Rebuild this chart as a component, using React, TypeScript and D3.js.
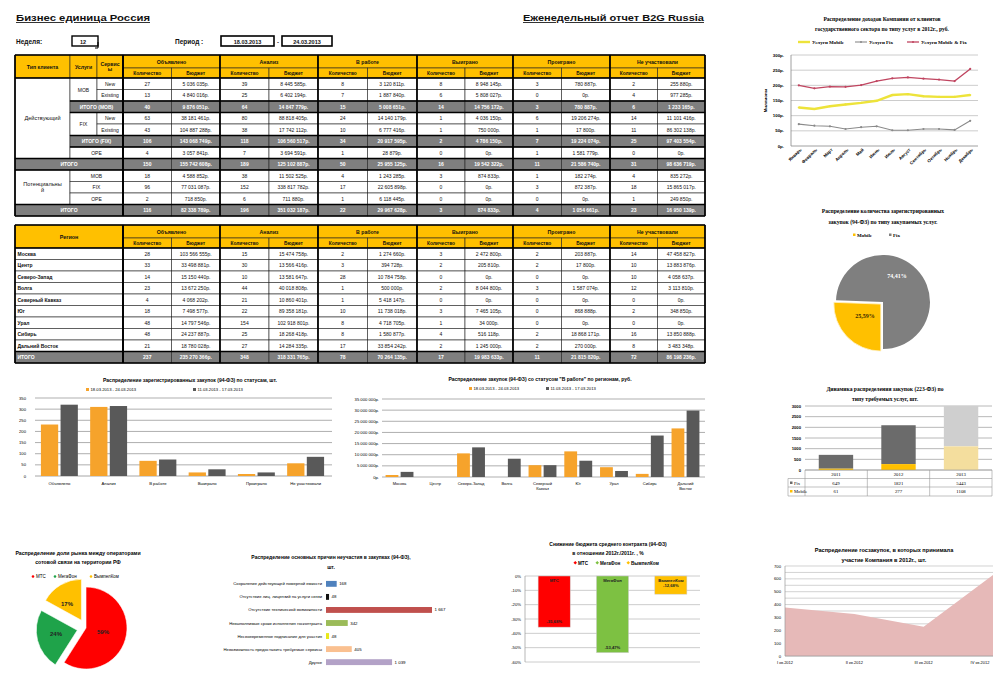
import React from "react";
import * as d3 from "d3";

const SANS = "'Liberation Sans', Arial, sans-serif";
const SERIF = "'Liberation Serif', 'Times New Roman', serif";
const YELLOW = "#FFC000";
const GRAYROW = "#7F7F7F";
const ORANGE = "#F6A32B";
const DARK = "#595959";

// ---------------- Tables data ----------------
const statuses = ["Объявлено", "Анализ", "В работе", "Выиграно", "Проиграно", "Не участвовали"];
const subHeaders = ["Количество", "Бюджет"];

const t1Gray = [false, false, true, false, false, true, false, true, false, false, false, true];
const t1Counts = [
  [27, 39, 8, 8, 3, 2],
  [13, 25, 7, 6, 0, 4],
  [40, 64, 15, 14, 3, 6],
  [63, 80, 24, 1, 6, 14],
  [43, 38, 10, 1, 1, 11],
  [106, 118, 34, 2, 7, 25],
  [4, 7, 1, 0, 1, 0],
  [150, 189, 50, 16, 11, 31],
  [18, 38, 4, 3, 1, 4],
  [96, 152, 17, 0, 3, 18],
  [2, 6, 1, 0, 0, 1],
  [116, 196, 22, 3, 4, 23],
];
const t1Budgets = [
  [5036035, 8445585, 3120811, 8948145, 780887, 255880],
  [4840016, 6402194, 1887840, 5808027, 0, 977285],
  [9876051, 14847779, 5008651, 14756172, 780887, 1233165],
  [38181461, 88818405, 14140179, 4036150, 19206274, 11101416],
  [104887288, 17742112, 6777416, 750000, 17800, 86302138],
  [143068749, 106560517, 20917595, 4786150, 19224074, 97403554],
  [3057841, 3694591, 28879, 0, 1581779, 0],
  [155742608, 125102887, 25955125, 19542322, 21586740, 98636719],
  [4588852, 11502525, 1243285, 874833, 182274, 835272],
  [77031087, 338817782, 22605898, 0, 872387, 15865017],
  [718850, 711880, 6118445, 0, 0, 249850],
  [82338789, 351032187, 29967628, 874833, 1054661, 16950139],
];

const regions = ["Москва", "Центр", "Северо-Запад", "Волга", "Северный Кавказ", "Юг", "Урал", "Сибирь", "Дальний Восток"];
const t2Counts = [
  [28, 15, 2, 3, 2, 14],
  [33, 30, 3, 2, 2, 10],
  [14, 10, 28, 0, 0, 10],
  [23, 44, 1, 2, 3, 12],
  [4, 21, 1, 0, 0, 0],
  [18, 22, 10, 3, 0, 2],
  [48, 154, 8, 1, 0, 0],
  [48, 25, 8, 4, 2, 16],
  [21, 27, 17, 2, 2, 8],
];
const t2Budgets = [
  [103566555, 15474758, 1274660, 2472800, 203887, 47458827],
  [33498881, 13566416, 394728, 205810, 17800, 13883876],
  [15150440, 13581647, 10784758, 0, 0, 4058637],
  [13672250, 40018808, 500000, 8044800, 1587074, 3113810],
  [4068202, 10860401, 5418147, 0, 0, 0],
  [7498577, 89358181, 11738018, 7465105, 868888, 348850],
  [14797546, 102918801, 4718705, 34000, 0, 0],
  [24237887, 18268418, 1580877, 516118, 18868171, 13850888],
  [18780028, 14284335, 33854242, 1245000, 270000, 3483348],
];

// ---------------- Charts data ----------------
const months = ["Январь", "Февраль", "Март", "Апрель", "Май", "Июнь", "Июль", "Август", "Сентябрь", "Октябрь", "Ноябрь", "Декабрь"];
const incomeMobile = [127, 122, 131, 137, 142, 149, 168, 171, 164, 162, 162, 168];
const incomeFix = [72, 67, 65, 56, 62, 65, 52, 52, 56, 56, 53, 83];
const incomeBoth = [200, 190, 196, 195, 201, 214, 223, 226, 222, 219, 214, 254];
const incomeTicks = [0, 50, 100, 150, 200, 250, 300];

const serviceNames = ["Mobile", "Fix"];
const serviceShares = [25.59, 74.41];

const periodNames = ["18.03.2013 - 24.03.2013", "11.03.2013 - 17.03.2013"];
const statusCur = [231, 310, 68, 16, 9, 57];
const statusPrev = [320, 314, 74, 30, 16, 86];
const statusTicks = [0, 50, 100, 150, 200, 250, 300, 350];

const regionLabels = [["Москва"], ["Центр"], ["Северо-Запад"], ["Волга"], ["Северный", "Кавказ"], ["Юг"], ["Урал"], ["Сибирь"], ["Дальний", "Восток"]];
const workCur = [900000, 0, 10600000, 0, 5300000, 11500000, 4400000, 1400000, 21800000];
const workPrev = [2300000, 0, 13300000, 8200000, 5300000, 7300000, 2700000, 18600000, 29800000];
const workTicks = [0, 5000000, 10000000, 15000000, 20000000, 25000000, 30000000, 35000000];

const years = ["2011", "2012", "2013"];
const fix223 = [649, 1821, 5443];
const mobile223 = [61, 277, 1108];
const ticks223 = [0, 500, 1000, 1500, 2000, 2500, 3000];

const operators = ["МТС", "МегаФон", "ВымпелКом"];
const operatorShares = [59, 24, 17];

const reasonLabels = [
  "Сохранение действующей номерной емкости",
  "Отсутствие лиц. лицензий на услуги связи",
  "Отсутствие технической возможности",
  "Невыполнимые сроки исполнения госконтракта",
  "Несвоевременное подписание для участия",
  "Невозможность предоставить требуемые сервисы",
  "Другое",
];
const reasonValues = [168, 48, 1667, 342, 48, 405, 1039];
const reasonColors = ["#4F81BD", "#111111", "#C0504D", "#9BBB59", "#E8E81A", "#FAC090", "#B3A2C7"];

const decreaseValues = [-35.68, -53.47, -12.68];
const decreaseTicks = [0, -10, -20, -30, -40, -50, -60];

const quarters = ["I кв.2012", "II кв.2012", "III кв.2012", "IV кв.2012"];
const quarterCounts = [378, 327, 228, 630];
const quarterTicks = [0, 100, 200, 300, 400, 500, 600, 700];

// ---------------- helpers ----------------
const fmtRub = (n: number) => d3.format(",")(n).replace(/,/g, " ") + "р.";
const fmtInt = (n: number) => d3.format(",")(n).replace(/,/g, " ");

type CellProps = {
  x0: number; x1: number; y0: number; y1: number; fill?: string; lines?: string[];
  color?: string; bold?: boolean; anchor?: "start" | "middle" | "end"; size?: number; sw?: number;
};
function Cell({ x0, x1, y0, y1, fill = "#fff", lines = [], color = "#111", bold = false, anchor = "middle", size = 5, sw = 0.6 }: CellProps) {
  const cx = anchor === "middle" ? (x0 + x1) / 2 : anchor === "start" ? x0 + 2.5 : x1 - 2.5;
  const cy = (y0 + y1) / 2;
  const lh = size * 1.15;
  return (
    <g>
      <rect x={x0} y={y0} width={x1 - x0} height={y1 - y0} fill={fill} stroke="#222" strokeWidth={sw} />
      {lines.map((t, i) => (
        <text key={i} x={cx} y={cy + (i - (lines.length - 1) / 2) * lh} textAnchor={anchor} dominantBaseline="central"
          fontSize={size} fontWeight={bold ? "bold" : "normal"} fill={color}>{t}</text>
      ))}
    </g>
  );
}

const GX = [123, 220, 318, 417, 513, 610, 705];
const valueCols = () => {
  const cols: [number, number][] = [];
  for (let i = 0; i < 6; i++) {
    const a = GX[i], b = GX[i + 1], m = (a + b) / 2;
    cols.push([a, m], [m, b]);
  }
  return cols;
};

function GroupHeader({ top, hdrH, subH }: { top: number; hdrH: number; subH: number }) {
  const cols = valueCols();
  return (
    <g>
      {statuses.map((s, i) => (
        <Cell key={"g" + i} x0={GX[i]} x1={GX[i + 1]} y0={top} y1={top + hdrH} fill={YELLOW} lines={[s]} bold size={5.2} />
      ))}
      {cols.map((c, j) => (
        <Cell key={"s" + j} x0={c[0]} x1={c[1]} y0={top + hdrH} y1={top + hdrH + subH} fill={YELLOW} lines={[subHeaders[j % 2]]} bold size={4.8} />
      ))}
    </g>
  );
}

function ValueRow({ y0, y1, counts, budgets, gray }: { y0: number; y1: number; counts: number[]; budgets: number[]; gray: boolean }) {
  const cols = valueCols();
  return (
    <g>
      {counts.map((c, i) => (
        <g key={i}>
          <Cell x0={cols[2 * i][0]} x1={cols[2 * i][1]} y0={y0} y1={y1} fill={gray ? GRAYROW : "#fff"} color={gray ? "#fff" : "#111"} lines={[String(c)]} bold={gray} />
          <Cell x0={cols[2 * i + 1][0]} x1={cols[2 * i + 1][1]} y0={y0} y1={y1} fill={gray ? GRAYROW : "#fff"} color={gray ? "#fff" : "#111"} lines={[fmtRub(budgets[i])]} bold={gray} />
        </g>
      ))}
    </g>
  );
}

function Table1() {
  const top = 55, hdrH = 13, subH = 10, rowH = 11.5;
  const y0 = top + hdrH + subH;
  const ry = (r: number) => y0 + r * rowH;
  const left = [
    { c0: 15, c1: 70, r0: 0, r1: 7, t: ["Действующий"] },
    { c0: 70, c1: 97, r0: 0, r1: 2, t: ["MOB"] },
    { c0: 97, c1: 123, r0: 0, r1: 1, t: ["New"] },
    { c0: 97, c1: 123, r0: 1, r1: 2, t: ["Existing"] },
    { c0: 70, c1: 123, r0: 2, r1: 3, t: ["ИТОГО (MOB)"], g: true },
    { c0: 70, c1: 97, r0: 3, r1: 5, t: ["FIX"] },
    { c0: 97, c1: 123, r0: 3, r1: 4, t: ["New"] },
    { c0: 97, c1: 123, r0: 4, r1: 5, t: ["Existing"] },
    { c0: 70, c1: 123, r0: 5, r1: 6, t: ["ИТОГО (FIX)"], g: true },
    { c0: 70, c1: 123, r0: 6, r1: 7, t: ["OPE"] },
    { c0: 15, c1: 123, r0: 7, r1: 8, t: ["ИТОГО"], g: true },
    { c0: 15, c1: 70, r0: 8, r1: 11, t: ["Потенциальны", "й"] },
    { c0: 70, c1: 123, r0: 8, r1: 9, t: ["MOB"] },
    { c0: 70, c1: 123, r0: 9, r1: 10, t: ["FIX"] },
    { c0: 70, c1: 123, r0: 10, r1: 11, t: ["OPE"] },
    { c0: 15, c1: 123, r0: 11, r1: 12, t: ["ИТОГО"], g: true },
  ];
  const bottom = ry(t1Counts.length);
  return (
    <g>
      <Cell x0={15} x1={70} y0={top} y1={y0} fill={YELLOW} lines={["Тип клиента"]} bold size={5.2} />
      <Cell x0={70} x1={97} y0={top} y1={y0} fill={YELLOW} lines={["Услуги"]} bold size={5.2} />
      <Cell x0={97} x1={123} y0={top} y1={y0} fill={YELLOW} lines={["Сервис", "ы"]} bold size={5.2} />
      <GroupHeader top={top} hdrH={hdrH} subH={subH} />
      {left.map((c, i) => (
        <Cell key={i} x0={c.c0} x1={c.c1} y0={ry(c.r0)} y1={ry(c.r1)} fill={c.g ? GRAYROW : "#fff"} color={c.g ? "#fff" : "#111"}
          lines={c.t} bold={!!c.g} size={c.r1 - c.r0 > 2 ? 5.6 : 5} />
      ))}
      {t1Counts.map((row, r) => (
        <ValueRow key={r} y0={ry(r)} y1={ry(r + 1)} counts={row} budgets={t1Budgets[r]} gray={t1Gray[r]} />
      ))}
      {[15, 123, ...GX].map((x, i) => (
        <line key={"v" + i} x1={x} x2={x} y1={top} y2={bottom} stroke="#000" strokeWidth={1.7} />
      ))}
      {t1Gray.map((g, r) => g ? (
        <g key={"h" + r}>
          <line x1={r === 7 || r === 11 ? 15 : 70} x2={705} y1={ry(r)} y2={ry(r)} stroke="#000" strokeWidth={1.5} />
          <line x1={r === 7 || r === 11 ? 15 : 70} x2={705} y1={ry(r + 1)} y2={ry(r + 1)} stroke="#000" strokeWidth={1.5} />
        </g>
      ) : null)}
      <line x1={15} x2={705} y1={top} y2={top} stroke="#000" strokeWidth={1.7} />
      <line x1={15} x2={705} y1={y0} y2={y0} stroke="#000" strokeWidth={1.7} />
    </g>
  );
}

function Table2() {
  const top = 225, hdrH = 13, subH = 10, rowH = 11.5;
  const y0 = top + hdrH + subH;
  const ry = (r: number) => y0 + r * rowH;
  const totalCounts = statuses.map((_, i) => d3.sum(t2Counts, (r) => r[i]));
  const totalBudgets = statuses.map((_, i) => d3.sum(t2Budgets, (r) => r[i]));
  const n = regions.length;
  const bottom = ry(n + 1);
  return (
    <g>
      <Cell x0={15} x1={123} y0={top} y1={y0} fill={YELLOW} lines={["Регион"]} bold size={5.4} />
      <GroupHeader top={top} hdrH={hdrH} subH={subH} />
      {regions.map((reg, r) => (
        <g key={r}>
          <Cell x0={15} x1={123} y0={ry(r)} y1={ry(r + 1)} lines={[reg]} anchor="start" bold size={5} />
          <ValueRow y0={ry(r)} y1={ry(r + 1)} counts={t2Counts[r]} budgets={t2Budgets[r]} gray={false} />
        </g>
      ))}
      <Cell x0={15} x1={123} y0={ry(n)} y1={ry(n + 1)} fill={GRAYROW} color="#fff" lines={["ИТОГО"]} anchor="start" bold />
      <ValueRow y0={ry(n)} y1={ry(n + 1)} counts={totalCounts} budgets={totalBudgets} gray />
      {[15, 123, ...GX].map((x, i) => (
        <line key={"v" + i} x1={x} x2={x} y1={top} y2={bottom} stroke="#000" strokeWidth={1.7} />
      ))}
      {[top, y0, ry(n), bottom].map((y, i) => (
        <line key={"h" + i} x1={15} x2={705} y1={y} y2={y} stroke="#000" strokeWidth={1.6} />
      ))}
    </g>
  );
}

function Header() {
  return (
    <g fontWeight="bold" fill="#111">
      <text x={16} y={21} fontSize={8.5} textDecoration="underline" textLength={134} lengthAdjust="spacingAndGlyphs">Бизнес единица Россия</text>
      <text x={523} y={21} fontSize={8.5} textDecoration="underline" textLength={181} lengthAdjust="spacingAndGlyphs">Еженедельный отчет B2G Russia</text>
      <text x={16} y={44} fontSize={6.5}>Неделя:</text>
      <rect x={72} y={36} width={26} height={10} fill="#fff" stroke="#000" strokeWidth={1.4} />
      <text x={83} y={43.5} fontSize={5.5} textAnchor="middle">12</text>
      <path d="M98,42 L98,48 L95,48" fill="none" stroke="#000" strokeWidth={1} />
      <text x={175} y={44} fontSize={6.5}>Период :</text>
      <rect x={221} y={36} width={53} height={10} fill="#fff" stroke="#000" strokeWidth={1.6} />
      <text x={247.5} y={43.5} fontSize={5.5} textAnchor="middle">18.03.2013</text>
      <text x={278} y={44} fontSize={6} textAnchor="middle">-</text>
      <rect x={282} y={36} width={50} height={10} fill="#fff" stroke="#000" strokeWidth={1.6} />
      <text x={307} y={43.5} fontSize={5.5} textAnchor="middle">24.03.2013</text>
    </g>
  );
}

// ---------------- Charts ----------------
function IncomeLine() {
  const x = d3.scalePoint<string>().domain(months).range([791, 978]).padding(0.5);
  const y = d3.scaleLinear().domain([0, 300]).range([146, 55]);
  const series = [
    { name: "Услуги Mobile", vals: incomeMobile, color: "#EDE33A", w: 2.4 },
    { name: "Услуги Fix", vals: incomeFix, color: "#8A8A8A", w: 1.1 },
    { name: "Услуги Mobile & Fix", vals: incomeBoth, color: "#C04560", w: 1.3 },
  ];
  const legendX = [798, 855, 907];
  const line = (vals: number[]) => d3.line<number>().x((_, i) => x(months[i])!).y((d) => y(d))(vals) || "";
  return (
    <g fontFamily={SERIF}>
      <text x={882} y={21} textAnchor="middle" fontSize={5.6} fontWeight="bold">Распределение доходов Компании от клиентов</text>
      <text x={882} y={31} textAnchor="middle" fontSize={5.6} fontWeight="bold">государственного сектора  по типу услуг в 2012г., руб.</text>
      {series.map((s, i) => (
        <g key={i}>
          <line x1={legendX[i]} x2={legendX[i] + 12} y1={42} y2={42} stroke={s.color} strokeWidth={s.w} />
          <circle cx={legendX[i] + 6} cy={42} r={1} fill={s.color} />
          <text x={legendX[i] + 14} y={44} fontSize={5} fontWeight="bold">{s.name}</text>
        </g>
      ))}
      {incomeTicks.map((t) => (
        <g key={t}>
          {t > 0 && <line x1={791} x2={978} y1={y(t)} y2={y(t)} stroke="#BFBFBF" strokeWidth={0.8} />}
          <text x={784} y={y(t) + 1.5} textAnchor="end" fontSize={4.4} fontFamily={SANS} fontWeight="bold">{t}р.</text>
        </g>
      ))}
      <line x1={791} x2={978} y1={y(0)} y2={y(0)} stroke="#888" strokeWidth={0.8} />
      <line x1={791} x2={791} y1={y(300)} y2={y(0)} stroke="#888" strokeWidth={0.8} />
      <text transform={`translate(767,${y(150)}) rotate(-90)`} textAnchor="middle" fontSize={4.4} fontFamily={SANS} fontWeight="bold">Миллионы</text>
      {series.map((s, i) => (
        <g key={i}>
          <path d={line(s.vals)} fill="none" stroke={s.color} strokeWidth={s.w} />
          {s.vals.map((v, j) => (
            <circle key={j} cx={x(months[j])!} cy={y(v)} r={1.1} fill={s.color} />
          ))}
        </g>
      ))}
      {months.map((m) => (
        <text key={m} transform={`translate(${x(m)! + 3},${150}) rotate(-45)`} textAnchor="end" fontSize={4.4} fontFamily={SANS} fontWeight="bold">{m}</text>
      ))}
    </g>
  );
}

function ServicePie() {
  const cx = 883, cy = 302, r = 47;
  const pie = d3.pie<number>().sort(null).startAngle(Math.PI).endAngle(3 * Math.PI);
  const arcs = pie(serviceShares);
  const arc = d3.arc<d3.PieArcDatum<number>>().innerRadius(0).outerRadius(r);
  const colors = [YELLOW, "#7F7F7F"];
  const labelPos = [[865, 318], [897, 278]];
  return (
    <g fontFamily={SERIF}>
      <text x={883} y={213} textAnchor="middle" fontSize={5.6} fontWeight="bold">Распределение количества зарегистрированных</text>
      <text x={883} y={224} textAnchor="middle" fontSize={5.6} fontWeight="bold">закупок  (94-ФЗ) по типу закупаемых услуг.</text>
      {serviceNames.map((n, i) => (
        <g key={n}>
          <rect x={[853, 889][i]} y={233.5} width={2.5} height={2.5} fill={colors[i]} />
          <text x={[857, 893][i]} y={236.5} fontSize={5} fontWeight="bold">{n}</text>
        </g>
      ))}
      {arcs.map((a, i) => {
        const mid = (a.startAngle + a.endAngle) / 2;
        const off = i === 0 ? 3 : 0;
        return (
          <path key={i} d={arc(a) || ""} transform={`translate(${cx + Math.sin(mid) * off},${cy - Math.cos(mid) * off})`}
            fill={colors[i]} stroke={i === 0 ? "#FFF2CC" : "none"} strokeWidth={0.8} />
        );
      })}
      {serviceShares.map((v, i) => (
        <text key={i} x={labelPos[i][0]} y={labelPos[i][1]} textAnchor="middle" fontSize={6} fontWeight="bold"
          fill={i === 0 ? "#3a2a00" : "#fff"}>{v.toFixed(2).replace(".", ",")}%</text>
      ))}
    </g>
  );
}

function Legend2({ x1, x2, y }: { x1: number; x2: number; y: number }) {
  return (
    <g fontSize={4.2}>
      <rect x={x1} y={y - 3} width={3} height={3} fill={ORANGE} />
      <text x={x1 + 4.5} y={y}>{periodNames[0]}</text>
      <rect x={x2} y={y - 3} width={3} height={3} fill={DARK} />
      <text x={x2 + 4.5} y={y}>{periodNames[1]}</text>
    </g>
  );
}

function StatusBars() {
  const x0 = d3.scaleBand<string>().domain(statuses).range([35, 330]).paddingInner(0.25).paddingOuter(0.12);
  const x1 = d3.scaleBand<number>().domain([0, 1]).range([0, x0.bandwidth()]).paddingInner(0.12);
  const y = d3.scaleLinear().domain([0, 350]).range([476, 398]);
  const data = [statusCur, statusPrev];
  return (
    <g>
      <text x={190} y={382} textAnchor="middle" fontSize={5} fontWeight="bold">Распределение зарегистрированных закупок (94-ФЗ) по статусам, шт.</text>
      <Legend2 x1={86} x2={193} y={391} />
      {statusTicks.map((t) => (
        <g key={t}>
          <line x1={35} x2={332} y1={y(t)} y2={y(t)} stroke="#A6A6A6" strokeWidth={t === 0 ? 1 : 0.9} />
          <text x={26} y={y(t) + 1.5} textAnchor="end" fontSize={4.2}>{t}</text>
        </g>
      ))}
      {statuses.map((c, i) => (
        <g key={c}>
          {data.map((d, k) => (
            <rect key={k} x={x0(c)! + x1(k)!} y={y(d[i])} width={x1.bandwidth()} height={y(0) - y(d[i])} fill={k === 0 ? ORANGE : DARK} />
          ))}
          <text x={x0(c)! + x0.bandwidth() / 2} y={485} textAnchor="middle" fontSize={4.2}>{c}</text>
        </g>
      ))}
    </g>
  );
}

function RegionBars() {
  const x0 = d3.scaleBand<string>().domain(regions).range([382, 703]).paddingInner(0.22).paddingOuter(0.1);
  const x1 = d3.scaleBand<number>().domain([0, 1]).range([0, x0.bandwidth()]).paddingInner(0.15);
  const y = d3.scaleLinear().domain([0, 35000000]).range([477, 399]);
  const data = [workCur, workPrev];
  return (
    <g>
      <text x={540} y={381} textAnchor="middle" fontSize={5} fontWeight="bold">Распределение закупок (94-ФЗ) со статусом "В работе" по регионам, руб.</text>
      <Legend2 x1={469} x2={546} y={390} />
      {workTicks.map((t) => (
        <g key={t}>
          <line x1={382} x2={705} y1={y(t)} y2={y(t)} stroke="#A6A6A6" strokeWidth={0.9} />
          <text x={379} y={y(t) + 1.5} textAnchor="end" fontSize={4.2}>{fmtRub(t)}</text>
        </g>
      ))}
      {regions.map((c, i) => (
        <g key={c}>
          {data.map((d, k) => d[i] > 0 ? (
            <rect key={k} x={x0(c)! + x1(k)!} y={y(d[i])} width={x1.bandwidth()} height={y(0) - y(d[i])} fill={k === 0 ? ORANGE : DARK} />
          ) : null)}
          {regionLabels[i].map((l, j) => (
            <text key={j} x={x0(c)! + x0.bandwidth() / 2} y={485 + j * 5} textAnchor="middle" fontSize={4}>{l}</text>
          ))}
        </g>
      ))}
    </g>
  );
}

function Stacked223() {
  const x = d3.scaleBand<string>().domain(years).range([805, 992]).paddingInner(0.45).paddingOuter(0.22);
  const y = d3.scaleLinear().domain([0, 3000]).range([470, 406]).clamp(true);
  const fixCol = ["#6B6B6B", "#6B6B6B", "#CFCFCF"];
  const mobCol = [YELLOW, YELLOW, "#F4DE9E"];
  const tb = [470, 478.5, 487, 496];
  const colEdges = years.map((_, i) => 805 + (i * 187) / 3);
  return (
    <g fontFamily={SERIF}>
      <text x={885} y={391} textAnchor="middle" fontSize={5.6} fontWeight="bold">Динамика распределения закупок (223-ФЗ) по</text>
      <text x={885} y={401} textAnchor="middle" fontSize={5.6} fontWeight="bold">типу требуемых  услуг, шт.</text>
      {ticks223.map((t) => (
        <g key={t}>
          <line x1={805} x2={992} y1={y(t)} y2={y(t)} stroke="#A6A6A6" strokeWidth={0.8} />
          <text x={801} y={y(t) + 1.5} textAnchor="end" fontSize={4.2} fontFamily={SANS} fontWeight="bold">{t}</text>
        </g>
      ))}
      {years.map((yr, i) => (
        <g key={yr}>
          <rect x={x(yr)!} y={y(mobile223[i] + fix223[i])} width={x.bandwidth()} height={y(mobile223[i]) - y(mobile223[i] + fix223[i])} fill={fixCol[i]} />
          <rect x={x(yr)!} y={y(mobile223[i])} width={x.bandwidth()} height={y(0) - y(mobile223[i])} fill={mobCol[i]} />
        </g>
      ))}
      {tb.map((yy, i) => (
        <line key={i} x1={i === 0 ? 805 : 788} x2={992} y1={yy} y2={yy} stroke="#999" strokeWidth={0.6} />
      ))}
      {[...colEdges, 992].map((xx, i) => (
        <line key={i} x1={xx} x2={xx} y1={470} y2={496} stroke="#999" strokeWidth={0.6} />
      ))}
      <line x1={788} x2={788} y1={478.5} y2={496} stroke="#999" strokeWidth={0.6} />
      {years.map((yr, i) => (
        <g key={yr} fontSize={4.8}>
          <text x={x(yr)! + x.bandwidth() / 2} y={476} textAnchor="middle">{yr}</text>
          <text x={x(yr)! + x.bandwidth() / 2} y={484.5} textAnchor="middle">{fix223[i]}</text>
          <text x={x(yr)! + x.bandwidth() / 2} y={493} textAnchor="middle">{mobile223[i]}</text>
        </g>
      ))}
      <rect x={790} y={481.5} width={2.5} height={2.5} fill="#6B6B6B" />
      <text x={794} y={484.5} fontSize={4.6}>Fix</text>
      <rect x={790} y={490} width={2.5} height={2.5} fill={YELLOW} />
      <text x={794} y={493} fontSize={4.6}>Mobile</text>
    </g>
  );
}

function OperatorPie() {
  const cx = 86, cy = 628, r = 41;
  const pie = d3.pie<number>().sort(null);
  const arcs = pie(operatorShares);
  const arc = d3.arc<d3.PieArcDatum<number>>().innerRadius(0).outerRadius(r);
  const colors = ["#FF0000", "#1FA34A", "#FFC000"];
  const offs = [0, 9, 9];
  const labelPos = [[103, 634], [56, 636], [67, 606]];
  const legX = [33, 55, 91];
  return (
    <g>
      <text x={78} y={555} textAnchor="middle" fontSize={5.2} fontWeight="bold">Распределение доли рынка между операторами</text>
      <text x={78} y={564} textAnchor="middle" fontSize={5.2} fontWeight="bold">сотовой связи на территории РФ</text>
      {operators.map((o, i) => (
        <g key={o}>
          <circle cx={legX[i]} cy={576.5} r={1.3} fill={colors[i]} />
          <text x={legX[i] + 3} y={578} fontSize={4.5}>{o}</text>
        </g>
      ))}
      {arcs.map((a, i) => {
        const mid = (a.startAngle + a.endAngle) / 2;
        return (
          <path key={i} d={arc(a) || ""} transform={`translate(${cx + Math.sin(mid) * offs[i]},${cy - Math.cos(mid) * offs[i]})`}
            fill={colors[i]} stroke="#fff" strokeWidth={0.6} />
        );
      })}
      {operatorShares.map((v, i) => (
        <text key={i} x={labelPos[i][0]} y={labelPos[i][1]} textAnchor="middle" fontSize={6} fontWeight="bold" fill="#222">{v}%</text>
      ))}
    </g>
  );
}

function ReasonBars() {
  const y = d3.scaleBand<string>().domain(reasonLabels).range([577, 669]).paddingInner(0.55).paddingOuter(0.3);
  const x = d3.scaleLinear().domain([0, 1667]).range([326, 432]);
  return (
    <g>
      <text x={331} y={559} textAnchor="middle" fontSize={5} fontWeight="bold">Распределение основных причин неучастия в закупках (94-ФЗ),</text>
      <text x={331} y={569} textAnchor="middle" fontSize={5} fontWeight="bold">шт.</text>
      {reasonLabels.map((l, i) => (
        <g key={l}>
          <text x={322} y={y(l)! + y.bandwidth() / 2 + 1.5} textAnchor="end" fontSize={4.2}>{l}</text>
          <rect x={x(0)} y={y(l)!} width={x(reasonValues[i]) - x(0)} height={y.bandwidth()} fill={reasonColors[i]} />
          <text x={x(reasonValues[i]) + 2.5} y={y(l)! + y.bandwidth() / 2 + 1.5} fontSize={4.4}>{fmtInt(reasonValues[i])}</text>
        </g>
      ))}
    </g>
  );
}

function DecreaseBars() {
  const x = d3.scaleBand<string>().domain(operators).range([525, 700]).paddingInner(0.45).paddingOuter(0.225);
  const y = d3.scaleLinear().domain([-60, 0]).range([662, 576]);
  const colors = ["#FF0000", "#7DC142", "#FFC000"];
  const legX = [574, 596, 627];
  return (
    <g>
      <text x={608} y={546} textAnchor="middle" fontSize={5} fontWeight="bold">Снижение бюджета среднего контракта (94-ФЗ)</text>
      <text x={608} y={555} textAnchor="middle" fontSize={5} fontWeight="bold">в отношении 2012г./2011г. , %</text>
      {operators.map((o, i) => (
        <g key={o}>
          <rect x={legX[i]} y={561.5} width={2.5} height={2.5} fill={colors[i]} transform={`rotate(45 ${legX[i] + 1.25} ${562.75})`} />
          <text x={legX[i] + 4} y={564.5} fontSize={4.6} fontWeight="bold">{o}</text>
        </g>
      ))}
      {decreaseTicks.map((t) => (
        <g key={t}>
          <line x1={525} x2={700} y1={y(t)} y2={y(t)} stroke="#BFBFBF" strokeWidth={0.8} />
          <text x={521} y={y(t) + 1.5} textAnchor="end" fontSize={4.2}>{t}%</text>
        </g>
      ))}
      <line x1={525} x2={525} y1={576} y2={662} stroke="#999" strokeWidth={0.7} />
      {operators.map((o, i) => {
        const xc = x(o)! + x.bandwidth() / 2;
        const lbl = decreaseValues[i].toFixed(2).replace(".", ",") + "%";
        const yb = y(decreaseValues[i]);
        return (
          <g key={o}>
            <rect x={x(o)!} y={y(0)} width={x.bandwidth()} height={yb - y(0)} fill={colors[i]} stroke="#ccc" strokeWidth={0.5} />
            <text x={xc} y={582} textAnchor="middle" fontSize={4.2} fontWeight="bold" fill="#222">{o}</text>
            <text x={xc} y={i === 2 ? 587 : yb - 4} textAnchor="middle" fontSize={4.2} fontWeight="bold" fill="#222">{lbl}</text>
          </g>
        );
      })}
    </g>
  );
}

function QuarterArea() {
  const x = d3.scalePoint<string>().domain(quarters).range([785, 993]);
  const y = d3.scaleLinear().domain([0, 700]).range([656, 566]);
  const area = d3.area<number>().x((_, i) => x(quarters[i])!).y0(y(0)).y1((d) => y(d))(quarterCounts) || "";
  const grid = d3.range(0, 701, 50);
  return (
    <g>
      <text x={884} y={552} textAnchor="middle" fontSize={5.6} fontWeight="bold">Распределение госзакупок, в которых принимала</text>
      <text x={884} y={562} textAnchor="middle" fontSize={5.6} fontWeight="bold">участие Компания в 2012г., шт.</text>
      {grid.map((t) => (
        <line key={t} x1={785} x2={993} y1={y(t)} y2={y(t)} stroke="#BFBFBF" strokeWidth={0.7} />
      ))}
      {quarterTicks.map((t) => (
        <text key={t} x={781} y={y(t) + 1.5} textAnchor="end" fontSize={4.2}>{t}</text>
      ))}
      <path d={area} fill="#E6B9B8" />
      <line x1={785} x2={785} y1={566} y2={656} stroke="#999" strokeWidth={0.7} />
      <line x1={785} x2={993} y1={656} y2={656} stroke="#999" strokeWidth={0.7} />
      {quarters.map((q, i) => (
        <text key={q} x={Math.min(x(q)!, 980)} y={664} textAnchor="middle" fontSize={4}>{q}</text>
      ))}
    </g>
  );
}

export default function App() {
  return (
    <div style={{ position: "absolute", left: 0, top: 0, width: 1000, height: 677, background: "#fff" }}>
      <svg width={1000} height={677} style={{ display: "block", fontFamily: SANS }}>
        <rect x={0} y={0} width={1000} height={677} fill="#fff" />
        <Header />
        <Table1 />
        <Table2 />
        <IncomeLine />
        <ServicePie />
        <StatusBars />
        <RegionBars />
        <Stacked223 />
        <OperatorPie />
        <ReasonBars />
        <DecreaseBars />
        <QuarterArea />
      </svg>
    </div>
  );
}
